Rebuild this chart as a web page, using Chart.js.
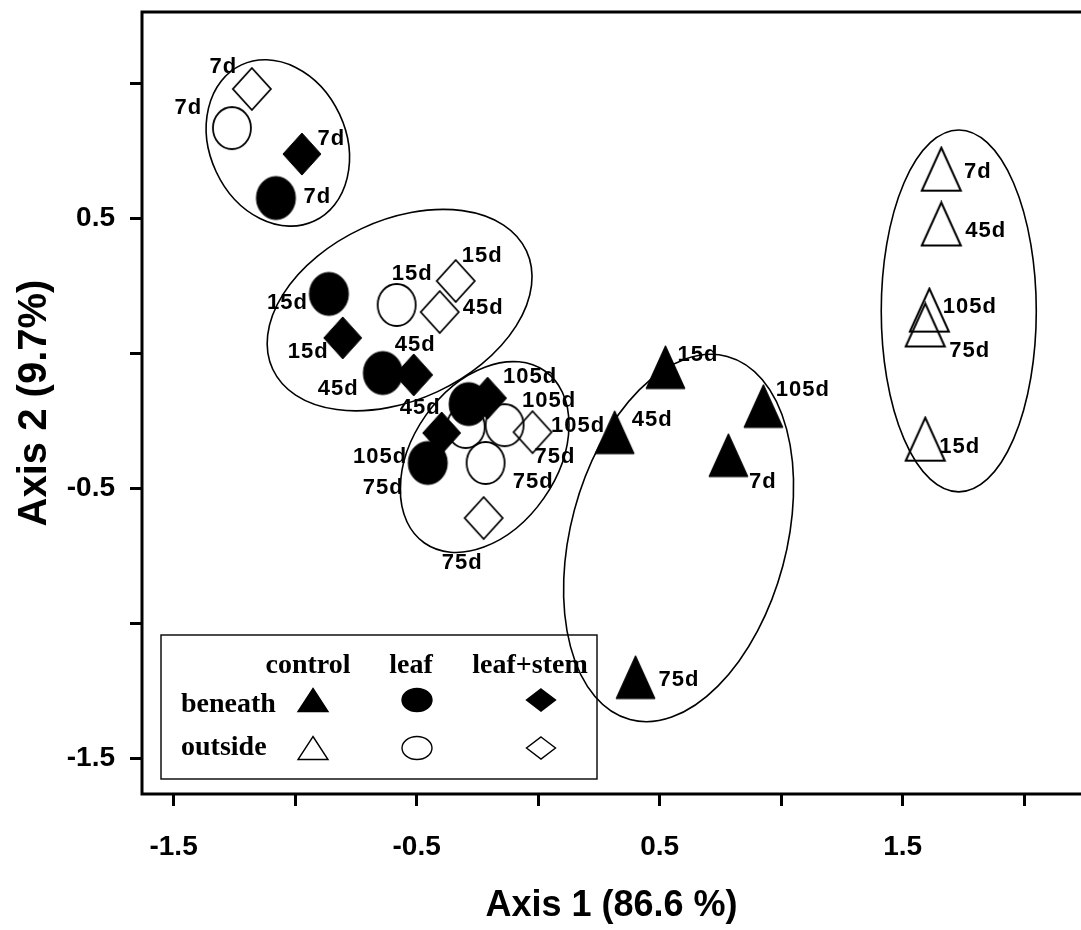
<!DOCTYPE html>
<html>
<head>
<meta charset="utf-8">
<script src="https://cdn.jsdelivr.net/npm/chart.js@4.4.1/dist/chart.umd.min.js"></script>
<style>
  html, body { margin: 0; padding: 0; background: #fff; }
  #wrap { width: 1081px; height: 930px; }
</style>
</head>
<body>
<div id="wrap"><canvas id="ordination" width="1081" height="930"></canvas></div>
<script>
// ordination scores, days in the order of `days`
const days = ['7d', '15d', '45d', '75d', '105d'];
const treatments = ['control', 'leaf', 'leaf+stem'];
const locations = ['beneath', 'outside'];

const controlBeneathX = [0.783, 0.524, 0.315, 0.401, 0.927];
const controlBeneathY = [-0.378, -0.052, -0.293, -1.200, -0.196];
const controlOutsideX = [1.659, 1.593, 1.659, 1.593, 1.610];
const controlOutsideY = [0.681, -0.319, 0.478, 0.104, 0.159];
const leafBeneathX = [-1.079, -0.861, -0.639, -0.454, -0.286];
const leafBeneathY = [0.574, 0.219, -0.074, -0.407, -0.189];
const leafOutsideX = [-1.260, -0.582, -0.298, -0.216, -0.138];
const leafOutsideY = [0.833, 0.178, -0.274, -0.407, -0.267];
const stemBeneathX = [-0.972, -0.804, -0.512, -0.208, -0.397];
const stemBeneathY = [0.737, 0.056, -0.081, -0.167, -0.296];
const stemOutsideX = [-1.178, -0.339, -0.405, -0.224, -0.023];
const stemOutsideY = [0.978, 0.267, 0.152, -0.611, -0.293];

const xTickValues = [-1.5, -1, -0.5, 0, 0.5, 1, 1.5, 2];
const xTickLabels = ['-1.5', '', '-0.5', '', '0.5', '', '1.5', ''];
const yTickValues = [-1.5, -1, -0.5, 0, 0.5, 1];
const yTickLabels = ['-1.5', '', '-0.5', '', '0.5', ''];

// group outlines: centre in axis units, half axes in axis units, tilt in degrees
const groupEllipses = [
  {cx: -1.071, cy: 0.778, rx: 0.280, ry: 0.319, tilt: -25},
  {cx: -0.570, cy: 0.159, rx: 0.576, ry: 0.333, tilt: -25},
  {cx: -0.220, cy: -0.385, rx: 0.432, ry: 0.267, tilt: -55},
  {cx: 0.578, cy: -0.685, rx: 0.444, ry: 0.696, tilt: 15},
  {cx: 1.731, cy: 0.156, rx: 0.319, ry: 0.670, tilt: 0}
];

// where each day label sits relative to its marker (px)
const labelOffsets = {
  controlBeneath: [[34, 27], [32, -12], [37, -12], [43, 3], [39, -16]],
  controlOutside: [[36, 3], [34, 8], [44, 7], [44, 26], [40, -3]],
  leafBeneath: [[41, -1], [-42, 9], [-45, 16], [-45, 25], [61, -27]],
  leafOutside: [[-44, -20], [15, -31], [-46, -19], [47, 19], [44, -24]],
  stemBeneath: [[29, -15], [-35, 14], [1, -30], [67, 59], [-62, 24]],
  stemOutside: [[-29, -22], [26, -25], [43, -4], [-22, 45], [45, -6]]
};

const SANS = "'Liberation Sans', Arial, sans-serif";
const SERIF = "'Liberation Serif', 'Times New Roman', serif";

function shapePath(g, shape, cx, cy, w, h) {
  g.beginPath();
  if (shape === 'triangle') {
    g.moveTo(cx, cy - h / 2);
    g.lineTo(cx + w / 2, cy + h / 2);
    g.lineTo(cx - w / 2, cy + h / 2);
    g.closePath();
  } else if (shape === 'circle') {
    g.ellipse(cx, cy, w / 2, h / 2, 0, 0, Math.PI * 2);
  } else {
    g.moveTo(cx, cy - h / 2);
    g.lineTo(cx + w / 2, cy);
    g.lineTo(cx, cy + h / 2);
    g.lineTo(cx - w / 2, cy);
    g.closePath();
  }
}

function drawShape(g, shape, filled, cx, cy, w, h, lw) {
  shapePath(g, shape, cx, cy, w, h);
  g.fillStyle = '#000';
  g.strokeStyle = '#000';
  g.lineWidth = lw;
  if (filled) g.fill();
  g.stroke();
}

function marker(shape, filled, w, h, lw) {
  const c = document.createElement('canvas');
  c.width = w + 4;
  c.height = h + 4;
  drawShape(c.getContext('2d'), shape, filled, c.width / 2, c.height / 2, w, h, lw);
  return c;
}

function pts(xs, ys) {
  return xs.map((x, i) => ({x: x, y: ys[i], day: days[i]}));
}

const series = [
  {key: 'controlBeneath', data: pts(controlBeneathX, controlBeneathY), style: marker('triangle', true, 39, 43, 1)},
  {key: 'leafBeneath', data: pts(leafBeneathX, leafBeneathY), style: marker('circle', true, 39, 43, 1)},
  {key: 'stemBeneath', data: pts(stemBeneathX, stemBeneathY), style: marker('diamond', true, 38, 42, 1)},
  {key: 'controlOutside', data: pts(controlOutsideX, controlOutsideY), style: marker('triangle', false, 39, 43, 2)},
  {key: 'leafOutside', data: pts(leafOutsideX, leafOutsideY), style: marker('circle', false, 38, 42, 1.8)},
  {key: 'stemOutside', data: pts(stemOutsideX, stemOutsideY), style: marker('diamond', false, 38, 42, 1.8)}
];

const ellipsePlugin = {
  id: 'ellipses',
  beforeDatasetsDraw(chart) {
    const {ctx, scales: {x, y}} = chart;
    ctx.save();
    ctx.strokeStyle = '#000';
    ctx.lineWidth = 1.6;
    groupEllipses.forEach(e => {
      const px = x.getPixelForValue(e.cx), py = y.getPixelForValue(e.cy);
      const rx = Math.abs(x.getPixelForValue(e.cx + e.rx) - px);
      const ry = Math.abs(y.getPixelForValue(e.cy + e.ry) - py);
      ctx.beginPath();
      ctx.ellipse(px, py, rx, ry, e.tilt * Math.PI / 180, 0, Math.PI * 2);
      ctx.stroke();
    });
    ctx.restore();
  }
};

const labelPlugin = {
  id: 'dayLabels',
  afterDatasetsDraw(chart) {
    const ctx = chart.ctx;
    ctx.save();
    ctx.font = 'bold 22px ' + SANS;
    ctx.letterSpacing = '1px';
    ctx.fillStyle = '#000';
    ctx.textAlign = 'center';
    ctx.textBaseline = 'middle';
    chart.data.datasets.forEach((ds, i) => {
      const offs = labelOffsets[ds.key];
      chart.getDatasetMeta(i).data.forEach((pt, j) => {
        ctx.fillText(ds.data[j].day, pt.x + offs[j][0] + 0.5, pt.y + offs[j][1]);
      });
    });
    ctx.restore();
  }
};

const framePlugin = {
  id: 'frameAndKey',
  afterDraw(chart) {
    const {ctx, chartArea: ca} = chart;
    ctx.save();
    ctx.strokeStyle = '#000';
    ctx.lineWidth = 3;
    ctx.beginPath();
    ctx.moveTo(chart.width, ca.top);
    ctx.lineTo(ca.left, ca.top);
    ctx.lineTo(ca.left, ca.bottom);
    ctx.lineTo(chart.width, ca.bottom);
    ctx.stroke();

    // key box in the lower left corner
    const bx = ca.left + 19, by = ca.bottom - 159, bw = 436, bh = 144;
    ctx.lineWidth = 1.4;
    ctx.strokeRect(bx, by, bw, bh);
    ctx.fillStyle = '#000';
    ctx.font = 'bold 28px ' + SERIF;
    ctx.textBaseline = 'alphabetic';
    ctx.textAlign = 'center';
    const colText = [147, 250, 369];
    const colMark = [152, 256, 380];
    treatments.forEach((t, i) => ctx.fillText(t, bx + colText[i], by + 38));
    ctx.textAlign = 'left';
    const rowBase = [77, 120];
    const rowMark = [65, 113];
    const shapes = ['triangle', 'circle', 'diamond'];
    locations.forEach((loc, r) => {
      ctx.fillText(loc, bx + 20, by + rowBase[r]);
      shapes.forEach((s, c) => {
        const w = s === 'diamond' ? 29 : 30, h = s === 'diamond' ? 22 : 23;
        drawShape(ctx, s, r === 0, bx + colMark[c], by + rowMark[r], w, h, 1.4);
      });
    });
    ctx.restore();
  }
};

const tickFont = {family: SANS, size: 28, weight: 'bold'};

function noMargins(s) {
  s.paddingTop = 0;
  s.paddingBottom = 0;
  s.paddingLeft = 0;
  s.paddingRight = 0;
}

new Chart(document.getElementById('ordination'), {
  type: 'scatter',
  data: {
    datasets: series.map(s => ({
      key: s.key,
      data: s.data,
      pointStyle: s.style,
      pointRadius: 20,
      pointHoverRadius: 20
    }))
  },
  options: {
    responsive: false,
    devicePixelRatio: 1,
    animation: false,
    events: [],
    layout: {autoPadding: false, padding: {top: 12, right: 0, bottom: 0, left: 0}},
    plugins: {legend: {display: false}, tooltip: {enabled: false}},
    scales: {
      x: {
        type: 'linear',
        min: -1.630,
        max: 2.234,
        afterFit: s => { s.height = 136; noMargins(s); },
        afterBuildTicks: s => { s.ticks = xTickValues.map(v => ({value: v})); },
        ticks: {
          callback: (v, i) => xTickLabels[i],
          font: tickFont,
          color: '#000',
          padding: 24,
          autoSkip: false,
          maxRotation: 0
        },
        grid: {drawOnChartArea: false, drawTicks: true, tickLength: 12, tickWidth: 3, lineWidth: 3, tickColor: '#000'},
        border: {display: false},
        title: {
          display: true,
          text: 'Axis 1 (86.6 %)',
          color: '#000',
          font: {family: SANS, size: 36, weight: 'bold'},
          padding: {top: 0, bottom: 2}
        }
      },
      y: {
        type: 'linear',
        min: -1.633,
        max: 1.263,
        afterFit: s => { s.width = 142; noMargins(s); },
        afterBuildTicks: s => { s.ticks = yTickValues.map(v => ({value: v})); },
        ticks: {
          callback: (v, i) => yTickLabels[i],
          font: tickFont,
          color: '#000',
          padding: 15,
          autoSkip: false
        },
        grid: {drawOnChartArea: false, drawTicks: true, tickLength: 12, tickWidth: 3, lineWidth: 3, tickColor: '#000'},
        border: {display: false},
        title: {
          display: true,
          text: 'Axis 2 (9.7%)',
          color: '#000',
          font: {family: SANS, size: 40, weight: 'bold'},
          padding: {top: 11, bottom: 0}
        }
      }
    }
  },
  plugins: [ellipsePlugin, labelPlugin, framePlugin]
});
</script>
</body>
</html>
